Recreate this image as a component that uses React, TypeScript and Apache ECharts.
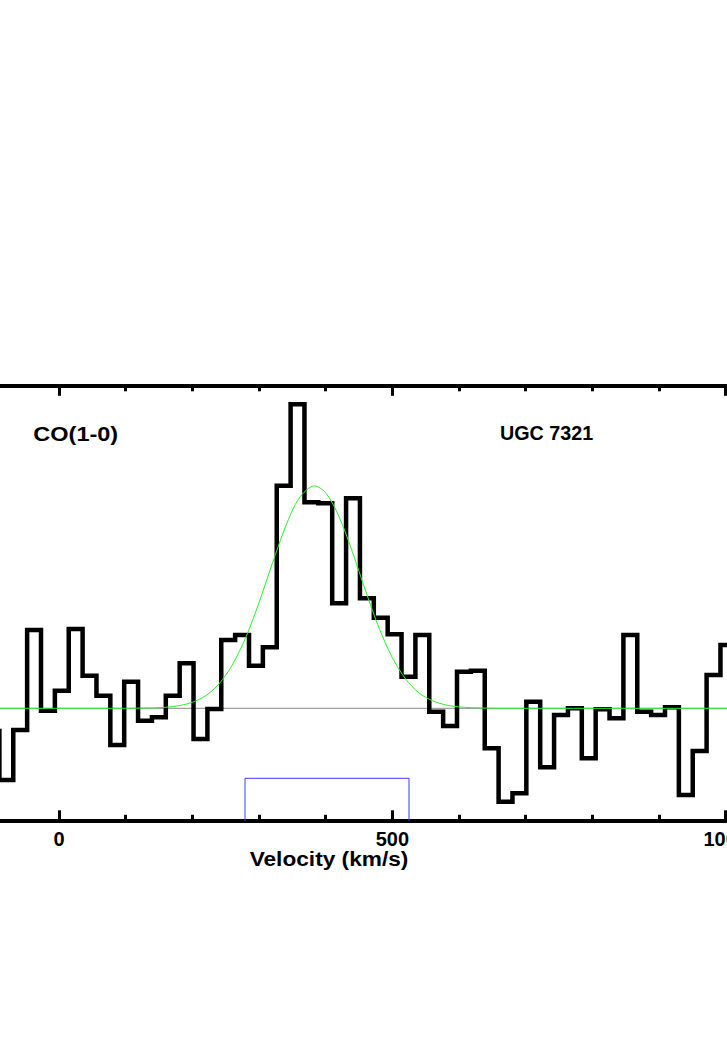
import React, { useEffect, useRef } from "react";
import * as echarts from "echarts";

// Channel centres (km/s) and line intensity of the CO(1-0) spectrum
const velocities = [
  -99.8, -79.0, -58.2, -37.4, -16.6, 4.2, 25.0, 45.8, 66.6, 87.4,
  108.2, 129.0, 149.8, 170.6, 191.4, 212.2, 233.0, 253.8, 274.6, 295.4,
  316.2, 337.0, 357.8, 378.6, 399.4, 420.2, 441.0, 461.8, 482.6, 503.4,
  524.2, 545.0, 565.8, 586.6, 607.4, 628.2, 649.0, 669.8, 690.6, 711.4,
  732.2, 753.0, 773.8, 794.6, 815.4, 836.2, 857.0, 877.8, 898.6, 919.4,
  940.2, 961.0, 981.8, 1002.6, 1023.4,
];
const intensities = [
  -1.14, -3.59, -1.09, 3.92, -0.12, 0.88, 3.97, 1.63, 0.63, -1.84,
  1.33, -0.62, -0.45, 0.63, 2.25, -1.54, -0.04, 3.42, 3.67, 2.13,
  3.05, 11.13, 15.2, 10.3, 10.25, 5.25, 10.5, 5.5, 4.53, 3.7,
  1.58, 3.67, -0.17, -0.89, 1.83, 1.88, -2.0, -4.67, -4.25, 0.33,
  -2.95, -0.34, 0.0, -2.5, -0.05, -0.5, 3.67, -0.17, -0.34, 0.05,
  -4.34, -2.14, 1.67, 3.17, 3.0,
];

// Gaussian fit (green)
const fitVelocities = [
  -500, 80, 100, 120, 140, 160, 180, 200, 220, 240, 260, 280, 300, 320,
  340, 360, 383, 400, 420, 440, 460, 480, 500, 520, 540, 560, 580, 600,
  620, 640, 660, 680, 1500,
];
const fitValues = [
  0, 0, 0.0, 0.01, 0.02, 0.05, 0.13, 0.3, 0.63, 1.22, 2.17, 3.53, 5.28, 7.24,
  9.1, 10.5, 11.12, 10.78, 9.59, 7.83, 5.86, 4.02, 2.53, 1.46, 0.77, 0.38, 0.17, 0.07,
  0.03, 0.01, 0.0, 0, 0,
];

// Velocity window (blue box)
const windowRange = [279, 525];
const windowTop = -3.5;

// Axis ranges and shown tick labels
const X_MIN = -500;
const X_MAX = 1500;
const X_STEP = 500;
const Y_MIN = -5.625;
const Y_MAX = 16.15;
const xTickLabels = [0, 500, 1000];

const lineLabel = "CO(1-0)";
const sourceName = "UGC 7321";
const xAxisTitle = "Velocity (km/s)";

const FONT = '"Liberation Sans", Arial, Helvetica, sans-serif';

export default function App() {
  const ref = useRef<HTMLDivElement>(null);

  useEffect(() => {
    const chart = echarts.init(ref.current!, null, { renderer: "svg" });

    const spectrum = velocities.map((v, i) => [v, intensities[i]]);
    const fit = fitVelocities.map((v, i) => [v, fitValues[i]]);
    const box = [
      [windowRange[0], Y_MIN],
      [windowRange[0], windowTop],
      [windowRange[1], windowTop],
      [windowRange[1], Y_MIN],
    ];

    const xCommon: any = {
      type: "value",
      min: X_MIN,
      max: X_MAX,
      interval: X_STEP,
      axisLine: { show: true, onZero: false, lineStyle: { color: "#000", width: 4 } },
      axisTick: { show: true, inside: true, length: 10.5, lineStyle: { color: "#000", width: 3 } },
      minorTick: { show: true, splitNumber: 5, length: 6, lineStyle: { color: "#000", width: 3 } },
      splitLine: { show: false },
      minorSplitLine: { show: false },
    };
    const yCommon: any = {
      type: "value",
      min: Y_MIN,
      max: Y_MAX,
      axisLine: { show: true, onZero: false, lineStyle: { color: "#000", width: 4 } },
      axisTick: { show: true, inside: true, length: 10.5, lineStyle: { color: "#000", width: 3 } },
      axisLabel: { show: false },
      splitLine: { show: false },
    };

    chart.setOption({
      animation: false,
      backgroundColor: "#fff",
      grid: { left: 25.67, right: 41, top: 385.3, bottom: 217.2, containLabel: false },
      xAxis: [
        {
          ...xCommon,
          position: "bottom",
          axisLabel: {
            show: true,
            margin: 8,
            fontSize: 20,
            fontWeight: "bold",
            fontFamily: FONT,
            color: "#000",
            formatter: (v: number) => (xTickLabels.indexOf(v) >= 0 ? String(v) : ""),
          },
        },
        { ...xCommon, position: "top", axisLabel: { show: false } },
      ],
      yAxis: [
        { ...yCommon, position: "left" },
        { ...yCommon, position: "right" },
      ],
      series: [
        {
          type: "line",
          data: [[X_MIN, 0], [X_MAX, 0]],
          symbol: "none",
          lineStyle: { color: "#8a8a8a", width: 1 },
          z: 1,
          silent: true,
        },
        {
          type: "line",
          data: spectrum,
          step: "middle",
          symbol: "none",
          lineStyle: { color: "#000", width: 4.5, join: "miter", cap: "butt" },
          z: 2,
          silent: true,
        },
        {
          type: "line",
          data: fit,
          smooth: 0.3,
          symbol: "none",
          lineStyle: { color: "#2af02a", width: 1 },
          z: 3,
          silent: true,
        },
        {
          type: "line",
          data: box,
          symbol: "none",
          lineStyle: { color: "#3a3aff", width: 1 },
          z: 2,
          silent: true,
        },
      ],
      graphic: [
        {
          type: "text",
          x: 333.3,
          y: 433.5,
          scaleX: 1.12,
          style: {
            text: lineLabel,
            fill: "#000",
            font: `bold 21px ${FONT}`,
            align: "left",
            verticalAlign: "middle",
          },
        },
        {
          type: "text",
          x: 800,
          y: 433,
          scaleX: 0.94,
          style: {
            text: sourceName,
            fill: "#000",
            font: `bold 21px ${FONT}`,
            align: "left",
            verticalAlign: "middle",
          },
        },
        {
          type: "text",
          x: 629,
          y: 859,
          scaleX: 1.08,
          style: {
            text: xAxisTitle,
            fill: "#000",
            font: `bold 21px ${FONT}`,
            align: "center",
            verticalAlign: "middle",
          },
        },
      ],
    });

    return () => chart.dispose();
  }, []);

  return (
    <div
      style={{
        position: "fixed",
        left: 0,
        top: 0,
        width: 727,
        height: 1038,
        overflow: "hidden",
        background: "#fff",
      }}
    >
      <div
        ref={ref}
        style={{ position: "absolute", left: -300, top: 0, width: 1400, height: 1038 }}
      />
    </div>
  );
}
